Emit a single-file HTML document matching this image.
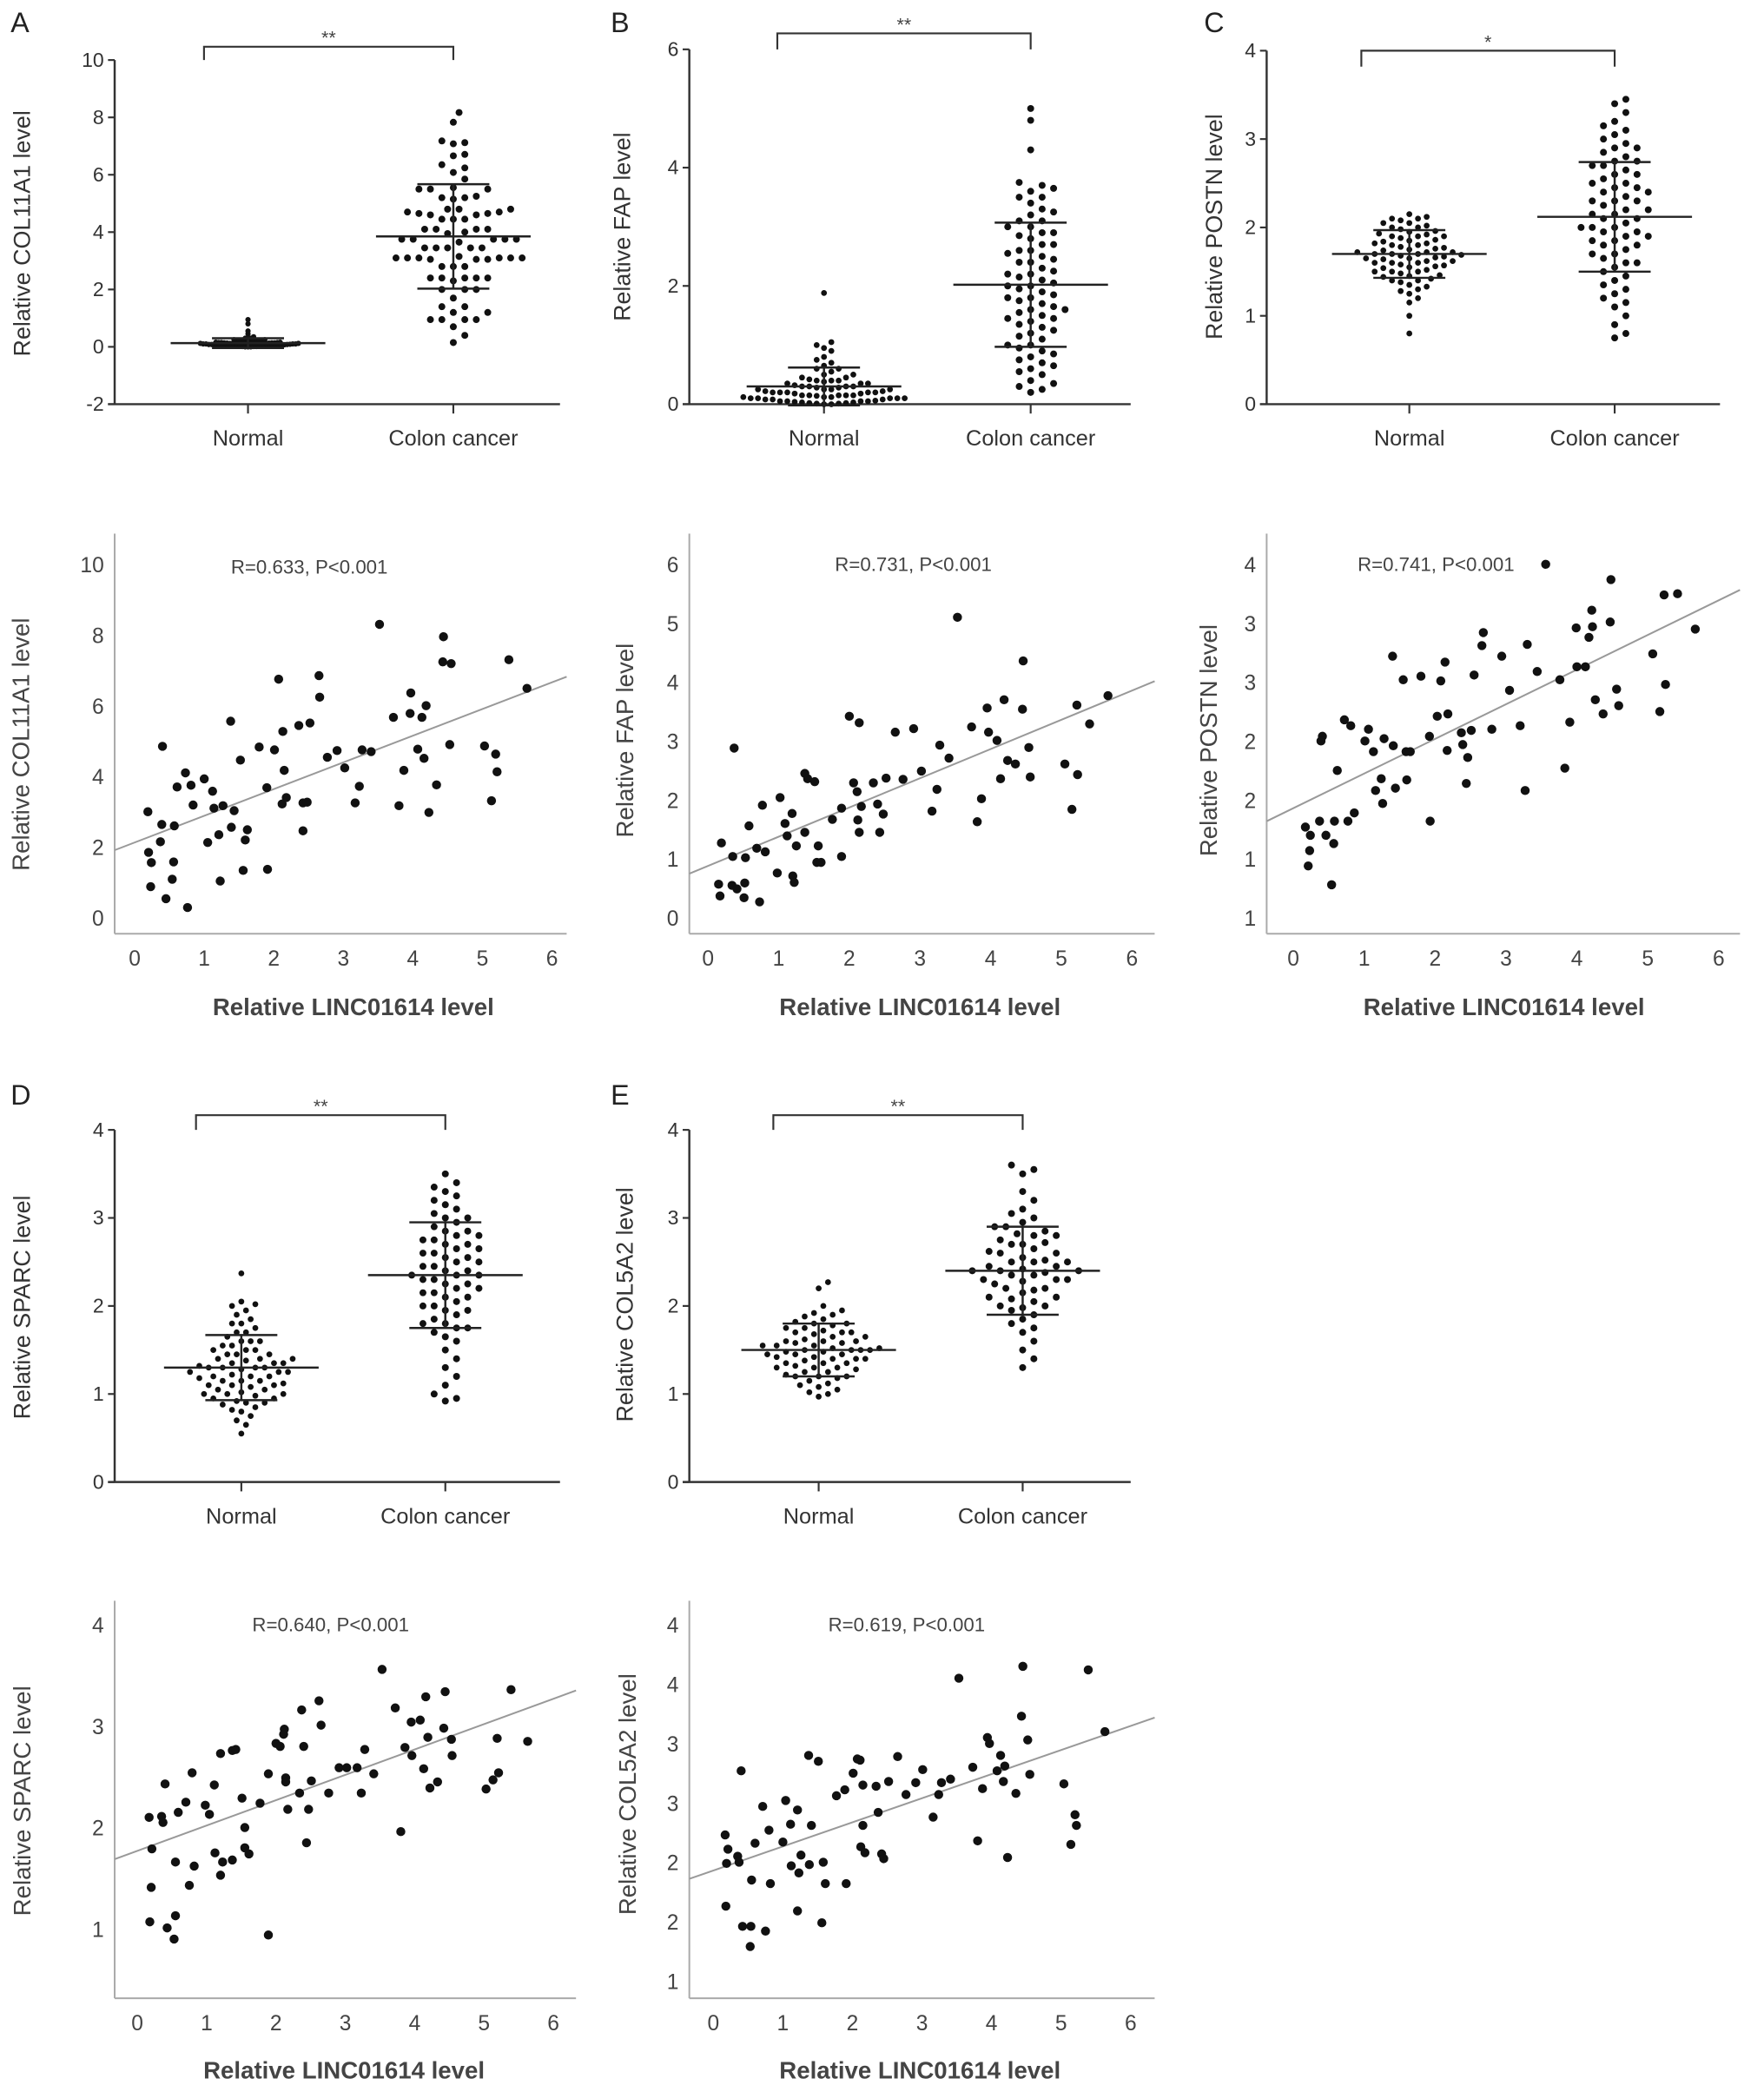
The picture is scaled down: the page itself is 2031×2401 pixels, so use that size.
<!DOCTYPE html>
<html><head><meta charset="utf-8"><style>
html,body{margin:0;padding:0;background:#fff;}
svg{display:block;}
text{font-family:"Liberation Sans",Arial,sans-serif;}
</style></head>
<body>
<svg id="fig" width="2031" height="2401" viewBox="0 0 1323 1563" preserveAspectRatio="none" xmlns="http://www.w3.org/2000/svg">
<rect x="0" y="0" width="1323" height="1563" fill="#fff"/>
<text x="8" y="24" font-size="21" fill="#222">A</text>
<text x="458" y="24" font-size="21" fill="#222">B</text>
<text x="903" y="24" font-size="21" fill="#222">C</text>
<text x="8" y="828" font-size="21" fill="#222">D</text>
<text x="458" y="828" font-size="21" fill="#222">E</text>
</svg>
<script>
// ---------- Box (dot) plot data ----------
const boxCategories = ["Normal", "Colon cancer"];
const aNormal = [0.95,0.8,0.55,0.45,0.35,0.3,0.3,0.28,0.25,0.25,0.22,0.2,0.2,0.2,0.18,0.18,0.18,0.16,0.16,0.15,0.15,0.15,0.14,0.14,0.13,0.13,0.12,0.12,0.12,0.12,0.11,0.11,0.1,0.1,0.1,0.1,0.1,0.1,0.09,0.09,0.09,0.08,0.08,0.08,0.08,0.07,0.07,0.07,0.06,0.06,0.06,0.05,0.05,0.05,0.05,0.04,0.04,0.04,0.03,0.03,0.03,0.02,0.02,0.02,0.01,0.01,0.01,0,0,0,0.12,0.14,0.16,0.1,0.08,0.06,0.18,0.2,0.11,0.09];
const aCancer = [8.17,7.83,7.12,7.08,7.18,6.71,6.66,6.35,6.24,6.08,5.85,5.5,5.5,5.55,5.5,5.2,5.2,5.15,5.25,4.8,4.8,4.8,4.7,4.65,4.6,4.65,4.6,4.7,4.45,4.45,4.45,4.1,4.1,4.1,4.1,4.0,3.95,3.75,3.75,3.75,3.75,3.65,3.75,3.45,3.45,3.45,3.45,3.45,3.15,3.05,3.1,3.1,3.1,3.1,3.1,3.05,3.05,3.1,2.8,2.8,2.8,2.4,2.4,2.4,2.4,2.4,2.3,2.0,2.0,2.0,1.7,1.4,1.2,1.2,1.4,0.95,0.95,0.95,0.95,0.7,0.4,0.15];
const bNormal = [1.88,1.05,1.0,0.95,0.9,0.8,0.75,0.7,0.65,0.6,0.6,0.55,0.5,0.5,0.45,0.45,0.4,0.4,0.4,0.35,0.35,0.35,0.3,0.3,0.3,0.3,0.28,0.25,0.25,0.25,0.25,0.22,0.2,0.2,0.2,0.2,0.2,0.18,0.15,0.15,0.15,0.15,0.15,0.12,0.12,0.1,0.1,0.1,0.1,0.1,0.08,0.08,0.06,0.05,0.05,0.05,0.05,0.04,0.03,0.03,0.02,0.02,0.01,0.01,0.0,0.0,0.22,0.18,0.12,0.32,0.28,0.38,0.42,0.14,0.08];
const bCancer = [5.0,4.8,4.3,3.75,3.7,3.65,3.6,3.5,3.5,3.4,3.3,3.2,3.1,3.1,3.0,3.0,2.9,2.85,2.8,2.7,2.7,2.6,2.55,2.5,2.45,2.4,2.4,2.3,2.25,2.2,2.2,2.1,2.05,2.0,2.0,1.95,1.9,1.85,1.8,1.8,1.75,1.7,1.65,1.6,1.6,1.55,1.5,1.45,1.4,1.35,1.3,1.25,1.2,1.15,1.1,1.0,1.0,0.95,0.9,0.85,0.8,0.75,0.7,0.65,0.6,0.55,0.5,0.4,0.35,0.3,0.25,0.2,2.6,2.15,1.45,3.25,2.9];
const cNormal = [2.15,2.12,2.1,2.1,2.08,2.05,2.05,2.02,2.0,2.0,1.98,1.96,1.95,1.93,1.92,1.9,1.9,1.88,1.86,1.85,1.84,1.82,1.8,1.8,1.78,1.77,1.76,1.75,1.74,1.72,1.72,1.7,1.7,1.7,1.69,1.68,1.67,1.66,1.65,1.65,1.64,1.62,1.62,1.6,1.6,1.58,1.57,1.56,1.55,1.54,1.52,1.5,1.5,1.48,1.46,1.45,1.44,1.42,1.4,1.4,1.38,1.35,1.33,1.3,1.28,1.25,1.2,1.15,1.0,0.8,1.72,1.82,1.6,1.9,1.5];
const cCancer = [3.45,3.4,3.3,3.2,3.15,3.1,3.0,2.95,2.9,2.9,2.85,2.8,2.75,2.7,2.7,2.65,2.6,2.55,2.5,2.5,2.45,2.4,2.4,2.35,2.3,2.3,2.25,2.2,2.2,2.15,2.15,2.1,2.1,2.05,2.0,2.0,1.95,1.95,1.9,1.85,1.85,1.8,1.8,1.75,1.7,1.7,1.65,1.6,1.55,1.5,1.45,1.4,1.35,1.3,1.25,1.2,1.15,1.1,1.0,0.9,0.8,0.75,2.6,2.3,2.0,1.9,2.45,2.75,3.05,1.6];
const dNormal = [2.37,2.05,2.02,2.0,1.95,1.9,1.85,1.8,1.75,1.7,1.65,1.6,1.6,1.55,1.5,1.5,1.45,1.45,1.4,1.4,1.38,1.35,1.35,1.32,1.3,1.3,1.3,1.28,1.25,1.25,1.22,1.2,1.2,1.18,1.15,1.15,1.12,1.1,1.1,1.08,1.05,1.05,1.02,1.0,1.0,0.98,0.95,0.95,0.92,0.9,0.88,0.85,0.82,0.8,0.75,0.7,0.65,0.55,1.3,1.35,1.25,1.4,1.2,1.6,1.1,1.5,1.0,1.45,1.15,1.7,0.9,1.8,1.55];
const dCancer = [3.5,3.4,3.35,3.3,3.25,3.2,3.15,3.1,3.0,3.0,2.95,2.9,2.85,2.8,2.8,2.75,2.7,2.7,2.65,2.6,2.6,2.55,2.5,2.5,2.45,2.4,2.4,2.35,2.35,2.3,2.3,2.25,2.2,2.2,2.15,2.1,2.1,2.05,2.0,2.0,1.95,1.9,1.85,1.8,1.8,1.75,1.7,1.65,1.6,1.5,1.4,1.3,1.2,1.1,1.0,0.95,0.92,2.55,2.45,2.65,2.35,2.25,2.75,2.15,2.85,1.95,3.05,1.75];
const eNormal = [2.27,2.2,2.0,1.95,1.92,1.9,1.88,1.85,1.82,1.8,1.78,1.75,1.72,1.7,1.7,1.68,1.65,1.62,1.6,1.6,1.58,1.55,1.55,1.52,1.5,1.5,1.5,1.48,1.45,1.45,1.42,1.4,1.4,1.38,1.35,1.35,1.32,1.3,1.3,1.28,1.25,1.22,1.2,1.2,1.18,1.15,1.12,1.1,1.08,1.05,1.02,1.0,0.97,1.5,1.55,1.45,1.6,1.4,1.65,1.35,1.7,1.3,1.75,1.25,1.8,1.2,1.52,1.48,1.58,1.42];
const eCancer = [3.6,3.55,3.5,3.3,3.2,3.1,3.05,3.0,2.95,2.9,2.9,2.85,2.8,2.8,2.75,2.7,2.7,2.65,2.6,2.6,2.55,2.5,2.5,2.45,2.45,2.4,2.4,2.35,2.35,2.3,2.3,2.25,2.2,2.2,2.15,2.1,2.1,2.05,2.0,2.0,1.95,1.9,1.85,1.8,1.75,1.7,1.6,1.5,1.4,1.3,2.42,2.38,2.52,2.28,2.62,2.18,2.72,2.08,2.82,1.98,2.5,2.4,2.3];
const boxMeans = [[0.13,3.85],[0.3,2.02],[1.7,2.12],[1.3,2.35],[1.5,2.4]];
const boxSDs = [[0.17,1.82],[0.32,1.05],[0.27,0.62],[0.37,0.6],[0.3,0.5]];
const boxYTicks = [[-2,0,2,4,6,8,10],[0,2,4,6],[0,1,2,3,4],[0,1,2,3,4],[0,1,2,3,4]];
const boxStars = ["**","**","*","**","**"];
const boxTitles = ["Relative COL11A1 level","Relative FAP level","Relative POSTN level","Relative SPARC level","Relative COL5A2 level"];

// ---------- Scatter data (x = LINC01614, y = gene) ----------
const saX=[0.19,0.2,0.24,0.23,0.4,0.39,0.37,0.45,0.57,0.56,0.54,0.61,0.73,0.81,0.84,0.76,1.0,1.05,1.12,1.14,1.27,1.21,1.23,1.43,1.38,1.39,1.52,1.59,1.62,1.56,1.79,1.9,1.91,2.01,2.07,2.13,2.15,2.18,2.12,2.36,2.42,2.48,2.42,2.52,2.65,2.66,2.77,2.91,3.02,3.23,3.17,3.27,3.4,3.52,3.72,3.8,3.87,3.96,3.97,4.07,4.13,4.16,4.19,4.23,4.34,4.44,4.43,4.55,4.53,5.03,5.13,5.19,5.21,5.38,5.64];
const saY=[3.0,1.85,1.56,0.88,4.85,2.64,2.15,0.54,2.6,1.58,1.09,3.7,4.1,3.75,3.19,0.29,3.93,2.13,3.58,3.1,3.17,2.35,1.04,3.03,5.56,2.56,4.46,2.2,2.49,1.34,4.83,3.68,1.37,4.75,6.75,5.27,4.17,3.4,3.22,5.44,3.25,3.27,2.46,5.51,6.85,6.24,4.54,4.73,4.24,3.72,3.25,4.75,4.7,8.3,5.67,3.17,4.17,5.78,6.36,4.77,5.67,4.51,6.0,2.98,3.76,7.95,7.24,7.19,4.9,4.86,3.31,4.63,4.13,7.3,6.49];
const sbX=[0.19,0.15,0.17,0.37,0.35,0.34,0.41,0.52,0.51,0.53,0.58,0.73,0.69,0.81,0.77,0.98,1.02,1.09,1.12,1.19,1.2,1.22,1.25,1.37,1.37,1.41,1.51,1.54,1.6,1.56,1.76,1.89,1.89,2.0,2.14,2.06,2.11,2.17,2.12,2.14,2.34,2.4,2.48,2.43,2.52,2.65,2.76,2.91,3.02,3.17,3.24,3.28,3.41,3.53,3.73,3.81,3.87,3.95,3.97,4.09,4.14,4.19,4.24,4.35,4.45,4.46,4.54,4.56,5.05,5.15,5.22,5.23,5.4,5.66];
const sbY=[1.27,0.57,0.37,2.88,1.04,0.55,0.49,0.59,0.34,1.02,1.56,0.27,1.18,1.12,1.91,0.76,2.04,1.6,1.39,1.77,0.71,0.6,1.22,1.45,2.45,2.36,2.31,0.94,0.94,1.22,1.67,1.86,1.04,3.42,3.31,2.29,2.14,1.89,1.66,1.45,2.29,1.93,1.76,1.45,2.37,3.15,2.35,3.21,2.49,1.81,2.18,2.93,2.71,5.1,3.24,1.63,2.02,3.56,3.15,3.01,2.36,3.7,2.67,2.61,3.54,4.36,2.89,2.39,2.61,1.84,3.61,2.43,3.29,3.77];
const scX=[3.56,4.48,5.23,5.42,4.21,4.47,3.99,4.22,4.17,5.67,2.68,2.66,3.3,1.4,2.94,5.07,2.14,4.0,4.12,3.44,1.8,2.55,1.55,2.08,3.76,3.05,5.25,4.56,4.26,4.59,4.37,5.17,2.03,2.18,0.72,0.81,1.06,0.41,0.39,1.01,1.28,1.41,1.92,2.37,2.51,2.8,3.2,3.9,1.13,1.59,1.65,2.17,2.39,2.46,0.62,1.24,1.6,1.16,1.44,2.44,3.27,3.83,1.26,0.86,0.77,0.37,0.58,1.93,0.17,0.24,0.46,0.57,0.23,0.21,0.54];
const scY=[4.0,3.87,3.74,3.75,3.61,3.51,3.46,3.47,3.38,3.45,3.42,3.31,3.32,3.22,3.22,3.24,3.17,3.13,3.13,3.09,3.05,3.06,3.02,3.01,3.02,2.93,2.98,2.94,2.85,2.8,2.73,2.75,2.71,2.73,2.68,2.63,2.6,2.54,2.5,2.5,2.52,2.46,2.54,2.57,2.59,2.6,2.63,2.66,2.41,2.41,2.41,2.42,2.47,2.36,2.25,2.18,2.17,2.08,2.1,2.14,2.08,2.27,1.97,1.89,1.82,1.82,1.82,1.82,1.77,1.7,1.7,1.63,1.57,1.44,1.28];
const sdX=[3.53,5.39,4.44,4.16,2.62,2.37,3.72,3.95,4.08,2.65,2.12,2.11,4.42,4.19,4.53,5.19,5.63,2.0,2.06,2.4,3.86,3.96,4.54,3.28,1.2,1.37,1.42,0.79,2.91,3.02,3.17,3.41,4.13,5.21,5.13,5.03,4.33,4.22,1.89,2.14,2.14,2.51,0.4,1.11,2.34,2.76,3.23,1.51,0.7,1.77,0.98,1.04,0.59,0.17,0.35,0.37,2.17,2.47,1.55,3.8,2.44,0.21,1.55,1.61,1.12,1.23,1.37,0.55,0.82,1.2,0.2,0.75,0.18,0.55,0.43,0.53,1.89];
const sdY=[3.56,3.36,3.34,3.29,3.25,3.16,3.18,3.04,3.06,3.01,2.97,2.92,2.98,2.89,2.87,2.88,2.85,2.83,2.8,2.8,2.79,2.71,2.71,2.77,2.73,2.76,2.77,2.54,2.59,2.59,2.59,2.53,2.58,2.54,2.47,2.38,2.45,2.39,2.53,2.49,2.45,2.46,2.43,2.42,2.34,2.34,2.34,2.29,2.25,2.24,2.22,2.13,2.15,2.1,2.11,2.05,2.18,2.18,2.0,1.96,1.85,1.79,1.8,1.74,1.75,1.66,1.68,1.66,1.62,1.53,1.41,1.43,1.07,1.13,1.01,0.9,0.94];
const seX=[4.45,5.39,3.53,4.43,5.63,4.52,3.94,3.97,1.37,1.51,2.07,2.11,2.65,4.13,4.19,4.08,4.55,3.73,3.01,0.4,2.01,2.15,2.34,2.52,2.91,3.28,3.41,3.87,4.17,4.35,5.04,1.89,1.77,2.77,3.24,0.71,1.04,1.21,2.37,3.16,5.2,5.22,0.17,0.8,1.11,1.41,2.15,1.0,0.6,0.21,0.35,0.37,0.19,1.26,1.12,1.23,1.38,1.58,2.12,2.18,2.42,2.45,3.8,4.23,5.14,0.55,0.82,1.61,1.91,0.18,1.21,0.42,0.54,0.75,1.56,0.53];
const seY=[3.65,3.62,3.55,3.23,3.1,3.03,3.05,3.0,2.9,2.85,2.87,2.86,2.89,2.9,2.81,2.77,2.74,2.8,2.78,2.77,2.75,2.65,2.64,2.68,2.67,2.67,2.7,2.62,2.68,2.58,2.66,2.61,2.56,2.57,2.57,2.47,2.52,2.44,2.42,2.38,2.4,2.31,2.23,2.27,2.32,2.31,2.31,2.17,2.16,2.11,2.05,2.0,1.99,2.06,1.97,1.91,1.98,2.0,2.13,2.08,2.07,2.03,2.18,2.04,2.15,1.85,1.82,1.82,1.82,1.63,1.59,1.46,1.46,1.42,1.49,1.29];
const scatterR = ["R=0.633, P<0.001","R=0.731, P<0.001","R=0.741, P<0.001","R=0.640, P<0.001","R=0.619, P<0.001"];
const fitIntercept = [2.13, 0.88, 1.93, 1.77, 1.93];
const fitSlope = [0.755, 0.496, 0.294, 0.25, 0.203];
const scatterXTicks = [0,1,2,3,4,5,6];
const scYTickVals = [1,1.5,2,2.5,3,3.5,4];
const scYTickLabels = ["1","1","2","2","3","3","4"];
const seYTickVals = [1,1.5,2,2.5,3,3.5,4];
const seYTickLabels = ["1","2","2","3","3","4","4"];

const NS="http://www.w3.org/2000/svg";
const svg=document.getElementById('fig');
function mk(tag,attrs,parent){const e=document.createElementNS(NS,tag);for(const k in attrs)e.setAttribute(k,attrs[k]);(parent||svg).appendChild(e);return e;}
function lin(d0,d1,r0,r1){return v=>r0+(v-d0)*(r1-r0)/(d1-d0);}

// ---------- Box plots ----------
const boxLayouts=[
 {ax:86,y0:-2,py0:303,y1:10,py1:45,xEnd:420,cx:[186,340],br:[153,340,35,45],ty:175,tx:18,dist:[2.1,8.6],r:[2.0,2.6]},
 {ax:517,y0:0,py0:303,y1:6,py1:37,xEnd:848,cx:[618,773],br:[583,773,25,37],ty:170,tx:468,dist:[5.5,8.6],r:[2.2,2.6]},
 {ax:950,y0:0,py0:303,y1:4,py1:38,xEnd:1290,cx:[1057,1211],br:[1021,1211,38,50],ty:170,tx:912,dist:[6.5,8.4],r:[2.2,2.6]},
 {ax:86,y0:0,py0:1111,y1:4,py1:847,xEnd:420,cx:[181,334],br:[147,334,836,847],ty:980,tx:18,dist:[7,8.4],r:[2.2,2.6]},
 {ax:517,y0:0,py0:1111,y1:4,py1:847,xEnd:848,cx:[614,767],br:[580,767,836,847],ty:978,tx:470,dist:[7,8.4],r:[2.2,2.6]}
];
const boxGroups=[[aNormal,aCancer],[bNormal,bCancer],[cNormal,cCancer],[dNormal,dCancer],[eNormal,eCancer]];
const letters=['a','b','c','d','e'];

function swarm(vals,cx,ys,dist){
 const pts=[];const sorted=vals.slice().sort((a,b)=>a-b);
 for(const v of sorted){const y=ys(v);let placed=false;
  for(let k=0;k<200&&!placed;k++){
   const offs=k===0?[0]:[k*dist*0.5,-k*dist*0.5];
   for(const o of offs){const x=cx+o;
    if(pts.every(p=>(p.x-x)**2+(p.y-y)**2>=dist*dist*0.92)){pts.push({x,y});placed=true;break;}}
  }
 }
 return pts;
}

boxLayouts.forEach((L,i)=>{
 const g=mk('g',{});
 
 
 const ys=lin(L.y0,L.y1,L.py0,L.py1);
 const yAx=mk('line',{x1:L.ax,y1:L.py1,x2:L.ax,y2:L.py0,stroke:'#333','stroke-width':1.6},g);
 
 
 const xAx=mk('line',{x1:L.ax-5,y1:L.py0,x2:L.xEnd,y2:L.py0,stroke:'#333','stroke-width':1.6},g);
 
 
 boxYTicks[i].forEach(t=>{const y=ys(t);
  const tk=mk('line',{x1:L.ax-5,y1:y,x2:L.ax,y2:y,stroke:'#333','stroke-width':1.4},g);
  
  
  const tl=mk('text',{x:L.ax-8,y:y+5,'font-size':15,'text-anchor':'end',fill:'#333'},g);tl.textContent=String(t);
  
  
 });
 boxCategories.forEach((c,j)=>{
  const tk=mk('line',{x1:L.cx[j],y1:L.py0,x2:L.cx[j],y2:L.py0+7,stroke:'#333','stroke-width':1.4},g);
  
  
  const tl=mk('text',{x:L.cx[j],y:L.py0+31,'font-size':16.5,'text-anchor':'middle',fill:'#333'},g);tl.textContent=c;
  
  
  const pts=swarm(boxGroups[i][j],L.cx[j],ys,L.dist[j]);
  pts.forEach(p=>{const d=mk('circle',{cx:p.x,cy:p.y,r:L.r[j],fill:'#111'},g);
   
   });
  const m=boxMeans[i][j],s=boxSDs[i][j],col='#222';
  const ml=mk('line',{x1:L.cx[j]-58,y1:ys(m),x2:L.cx[j]+58,y2:ys(m),stroke:col,'stroke-width':1.6},g);
  
  
  const sl=mk('line',{x1:L.cx[j],y1:ys(m-s),x2:L.cx[j],y2:ys(m+s),stroke:col,'stroke-width':1.6},g);
  
  
  [m-s,m+s].forEach(v=>{const cp=mk('line',{x1:L.cx[j]-27,y1:ys(v),x2:L.cx[j]+27,y2:ys(v),stroke:col,'stroke-width':1.6},g);
   
   });
 });
 const b=L.br;
 const br=mk('path',{d:`M${b[0]},${b[3]}V${b[2]}H${b[1]}V${b[3]}`,fill:'none',stroke:'#333','stroke-width':1.4},g);
 
 
 const st=mk('text',{x:(b[0]+b[1])/2,y:b[2]-2,'font-size':14,'text-anchor':'middle',fill:'#444'},g);st.textContent=boxStars[i];
 
 
 const yt=mk('text',{x:L.tx,y:L.ty,'font-size':17.5,'text-anchor':'middle',fill:'#333',transform:`rotate(-90 ${L.tx} ${L.ty})`,'dominant-baseline':'middle'},g);yt.textContent=boxTitles[i];
 
 
});

// ---------- Scatter plots ----------
const scLayouts=[
 {ax:86,top:400,bot:700,xEnd:425,x0:101,x6:414,yv0:0,yp0:688,yv1:10,yp1:423,yt:[0,2,4,6,8,10],yl:null,title:"Relative COL11A1 level",tx:17,ty:558,rx:232,ry:430,xt:265,xty:761,xs:saX,ysd:saY},
 {ax:517,top:400,bot:700,xEnd:866,x0:531,x6:849,yv0:0,yp0:688,yv1:6,yp1:423,yt:[0,1,2,3,4,5,6],yl:null,title:"Relative FAP level",tx:470,ty:555,rx:685,ry:428,xt:690,xty:761,xs:sbX,ysd:sbY},
 {ax:950,top:400,bot:700,xEnd:1305,x0:970,x6:1289,yv0:1,yp0:688,yv1:4,yp1:423,yt:scYTickVals,yl:scYTickLabels,title:"Relative POSTN level",tx:908,ty:555,rx:1077,ry:428,xt:1128,xty:761,xs:scX,ysd:scY},
 {ax:86,top:1200,bot:1498,xEnd:432,x0:103,x6:415,yv0:1,yp0:1446,yv1:4,yp1:1218,yt:[1,2,3,4],yl:null,title:"Relative SPARC level",tx:18,ty:1350,rx:248,ry:1223,xt:258,xty:1558,xs:sdX,ysd:sdY},
 {ax:517,top:1200,bot:1498,xEnd:866,x0:535,x6:848,yv0:1,yp0:1485,yv1:4,yp1:1218,yt:seYTickVals,yl:seYTickLabels,title:"Relative COL5A2 level",tx:472,ty:1345,rx:680,ry:1223,xt:690,xty:1558,xs:seX,ysd:seY}
];
scLayouts.forEach((L,i)=>{
 const g=mk('g',{});
 
 
 const xs=lin(0,6,L.x0,L.x6), ys=lin(L.yv0,L.yv1,L.yp0,L.yp1);
 const yAx=mk('line',{x1:L.ax,y1:L.top,x2:L.ax,y2:L.bot,stroke:'#aaa','stroke-width':1.3},g);
 
 
 const xAx=mk('line',{x1:L.ax,y1:L.bot,x2:L.xEnd,y2:L.bot,stroke:'#aaa','stroke-width':1.3},g);
 
 
 L.yt.forEach((t,k)=>{const tl=mk('text',{x:L.ax-8,y:ys(t)+6,'font-size':16,'text-anchor':'end',fill:'#444'},g);
  tl.textContent=L.yl?L.yl[k]:String(t);
  
  });
 scatterXTicks.forEach(t=>{const tl=mk('text',{x:xs(t),y:L.bot+24,'font-size':16,'text-anchor':'middle',fill:'#444'},g);
  tl.textContent=String(t);
  
  });
 const xa=(L.ax-L.x0)/(L.x6-L.x0)*6, xb=(L.xEnd-L.x0)/(L.x6-L.x0)*6;
 const fl=mk('line',{x1:xs(xa),y1:ys(fitIntercept[i]+fitSlope[i]*xa),x2:xs(xb),y2:ys(fitIntercept[i]+fitSlope[i]*xb),stroke:'#999','stroke-width':1.3},g);
 
 
 L.xs.forEach((xv,k)=>{const d=mk('circle',{cx:xs(xv),cy:ys(L.ysd[k]),r:3.4,fill:'#111'},g);
  
  });
 const rt=mk('text',{x:L.rx,y:L.ry,'font-size':14.5,'text-anchor':'middle',fill:'#444'},g);rt.textContent=scatterR[i];
 
 
 const xt=mk('text',{x:L.xt,y:L.xty,'font-size':18,'font-weight':'bold','text-anchor':'middle',fill:'#444'},g);xt.textContent="Relative LINC01614 level";
 
 
 const yt=mk('text',{x:L.tx,y:L.ty,'font-size':18,'text-anchor':'middle',fill:'#444',transform:`rotate(-90 ${L.tx} ${L.ty})`,'dominant-baseline':'middle'},g);yt.textContent=L.title;
 
 
});
</script>
</body></html>
